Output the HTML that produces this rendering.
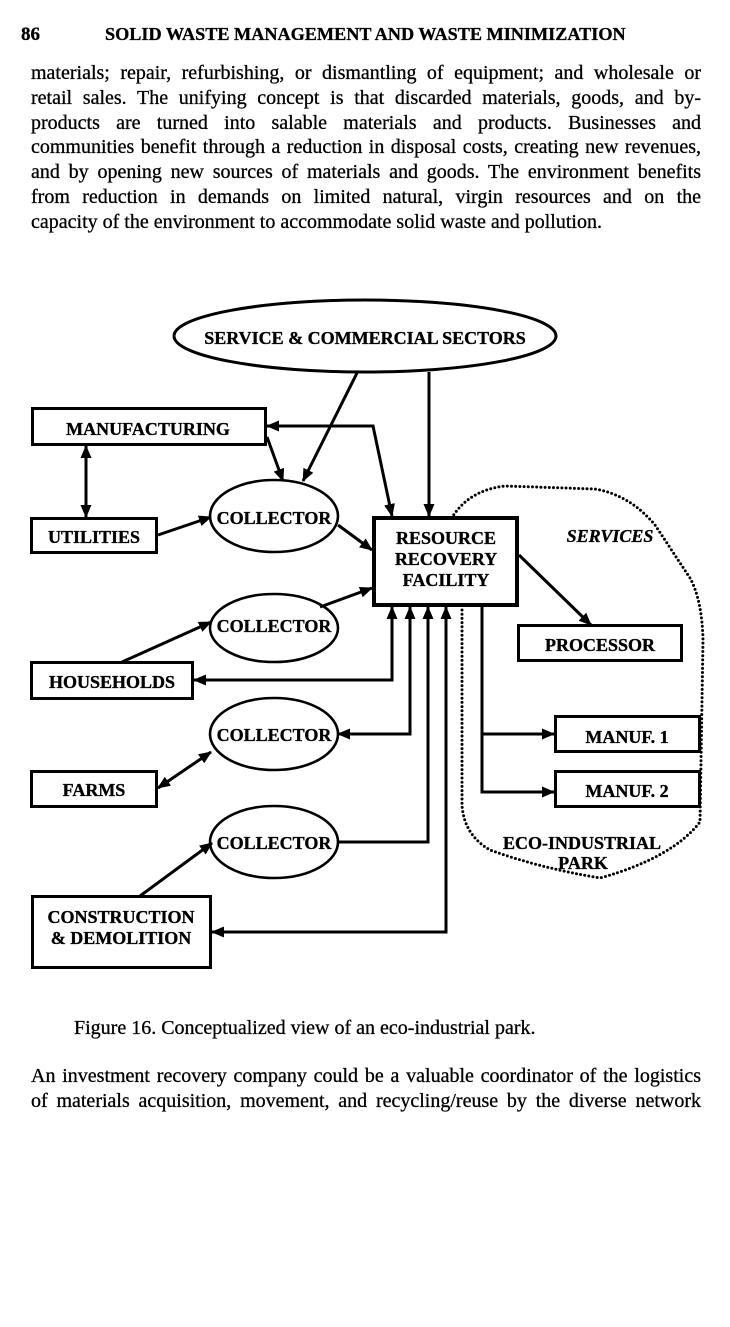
<!DOCTYPE html>
<html>
<head>
<meta charset="utf-8">
<style>
  html, body { margin:0; padding:0; background:#fff; }
  body { width:730px; height:1327px; position:relative; overflow:hidden; font-family:"Liberation Serif", serif; color:#000; }
  .ln { position:absolute; left:31px; width:670px; font-size:20px; line-height:24px; height:24px; text-align:justify; text-align-last:justify; white-space:nowrap; -webkit-text-stroke:0.3px #000; }
  .ln.last { text-align-last:left; }
  svg { position:absolute; left:0; top:0; }
</style>
</head>
<body>

<div class="ln" style="top:61px">materials; repair, refurbishing, or dismantling of equipment; and wholesale or</div>
<div class="ln" style="top:85.8px">retail sales. The unifying concept is that discarded materials, goods, and by-</div>
<div class="ln" style="top:110.6px">products are turned into salable materials and products. Businesses and</div>
<div class="ln" style="top:135.4px">communities benefit through a reduction in disposal costs, creating new revenues,</div>
<div class="ln" style="top:160.2px">and by opening new sources of materials and goods. The environment benefits</div>
<div class="ln" style="top:185px">from reduction in demands on limited natural, virgin resources and on the</div>
<div class="ln last" style="top:209.8px">capacity of the environment to accommodate solid waste and pollution.</div>

<div class="ln" style="top:1064px">An investment recovery company could be a valuable coordinator of the logistics</div>
<div class="ln" style="top:1088.5px">of materials acquisition, movement, and recycling/reuse by the diverse network</div>

<svg width="730" height="1327" viewBox="0 0 730 1327" xmlns="http://www.w3.org/2000/svg">
  <defs>
    <marker id="a" viewBox="0 0 13 11" refX="12" refY="5.5" markerWidth="13" markerHeight="11" markerUnits="userSpaceOnUse" orient="auto-start-reverse">
      <path d="M0,0 L13,5.5 L0,11 z" fill="#000"/>
    </marker>
  </defs>

  <!-- header -->
  <g stroke="#000" stroke-width="0.3">
    <text x="21" y="40" font-family="Liberation Serif, serif" font-weight="bold" font-size="19">86</text>
    <text x="105" y="40" font-family="Liberation Serif, serif" font-weight="bold" font-size="18.2">SOLID WASTE MANAGEMENT AND WASTE MINIMIZATION</text>
  </g>

  <!-- dotted eco-industrial boundary -->
  <path d="M 462 610 L 462 805 Q 464 835 490 850 Q 540 868 600 878 Q 672 858 700 822 L 703 640 Q 702 600 690 578 L 655 525 Q 630 495 595 489 L 505 486 Q 470 490 453 516"
        fill="none" stroke="#000" stroke-width="3" stroke-linecap="round" stroke-dasharray="0 4.2"/>

  <!-- shapes -->
  <g stroke="#000" fill="#fff">
    <ellipse cx="365" cy="336" rx="191" ry="36" stroke-width="3"/>
    <rect x="32.5" y="408.5" width="233" height="36" stroke-width="3"/>
    <rect x="31.5" y="518.5" width="125" height="34" stroke-width="3"/>
    <rect x="31.5" y="662.5" width="161" height="36" stroke-width="3"/>
    <rect x="31.5" y="771.5" width="125" height="35" stroke-width="3"/>
    <rect x="32.5" y="896.5" width="178" height="71" stroke-width="3"/>
    <ellipse cx="274" cy="516" rx="64" ry="36" stroke-width="2.6"/>
    <ellipse cx="274" cy="628" rx="64" ry="34" stroke-width="2.6"/>
    <ellipse cx="274" cy="734" rx="64" ry="36" stroke-width="2.6"/>
    <ellipse cx="274" cy="842" rx="64" ry="36" stroke-width="2.6"/>
    <rect x="374" y="518" width="143" height="87" stroke-width="4"/>
    <rect x="518.5" y="625.5" width="163" height="35" stroke-width="3"/>
    <rect x="555.5" y="716.5" width="144" height="35" stroke-width="3"/>
    <rect x="555.5" y="771.5" width="144" height="35" stroke-width="3"/>
  </g>

  <!-- connectors -->
  <g stroke="#000" stroke-width="3" fill="none">
    <line x1="357" y1="373" x2="303" y2="481" marker-end="url(#a)"/>
    <line x1="429" y1="372" x2="429" y2="516" marker-end="url(#a)"/>
    <polyline points="267,426 373,426 392,516" marker-start="url(#a)" marker-end="url(#a)"/>
    <line x1="267" y1="437" x2="283" y2="481" marker-end="url(#a)"/>
    <line x1="86" y1="446" x2="86" y2="517" marker-start="url(#a)" marker-end="url(#a)"/>
    <line x1="158" y1="535" x2="211" y2="517" marker-end="url(#a)"/>
    <line x1="338" y1="525" x2="372" y2="550" marker-end="url(#a)"/>
    <line x1="122" y1="662" x2="211" y2="622" marker-end="url(#a)"/>
    <line x1="320" y1="607" x2="372" y2="588" marker-end="url(#a)"/>
    <polyline points="194,680 392,680 392,607" marker-start="url(#a)" marker-end="url(#a)"/>
    <polyline points="338,734 410,734 410,607" marker-start="url(#a)" marker-end="url(#a)"/>
    <polyline points="338,842 428,842 428,607" marker-end="url(#a)"/>
    <polyline points="212,932 446,932 446,607" marker-start="url(#a)" marker-end="url(#a)"/>
    <line x1="140" y1="896" x2="212" y2="843" marker-end="url(#a)"/>
    <line x1="158" y1="788" x2="211" y2="752" marker-start="url(#a)" marker-end="url(#a)"/>
    <line x1="519" y1="555" x2="591" y2="625" marker-end="url(#a)"/>
    <polyline points="482,607 482,792 554,792" marker-end="url(#a)"/>
    <line x1="482" y1="734" x2="554" y2="734" marker-end="url(#a)"/>
  </g>

  <!-- labels -->
  <g font-family="Liberation Serif, serif" font-weight="bold" font-size="18" text-anchor="middle" fill="#000" stroke="#000" stroke-width="0.35">
    <text x="365" y="344">SERVICE &amp; COMMERCIAL SECTORS</text>
    <text x="148" y="435">MANUFACTURING</text>
    <text x="94" y="543">UTILITIES</text>
    <text x="112" y="688">HOUSEHOLDS</text>
    <text x="94" y="796">FARMS</text>
    <text x="121" y="923">CONSTRUCTION</text>
    <text x="121" y="944">&amp; DEMOLITION</text>
    <text x="274" y="524">COLLECTOR</text>
    <text x="274" y="632">COLLECTOR</text>
    <text x="274" y="741">COLLECTOR</text>
    <text x="274" y="849">COLLECTOR</text>
    <text x="446" y="544">RESOURCE</text>
    <text x="446" y="565">RECOVERY</text>
    <text x="446" y="586">FACILITY</text>
    <text x="600" y="651">PROCESSOR</text>
    <text x="627" y="743">MANUF. 1</text>
    <text x="627" y="797">MANUF. 2</text>
    <text x="610" y="542" font-style="italic">SERVICES</text>
    <text x="582" y="849">ECO-INDUSTRIAL</text>
    <text x="583" y="869">PARK</text>
  </g>

  <!-- caption -->
  <text x="74" y="1034" font-family="Liberation Serif, serif" font-size="20" stroke="#000" stroke-width="0.3">Figure 16. Conceptualized view of an eco-industrial park.</text>
</svg>

</body>
</html>
